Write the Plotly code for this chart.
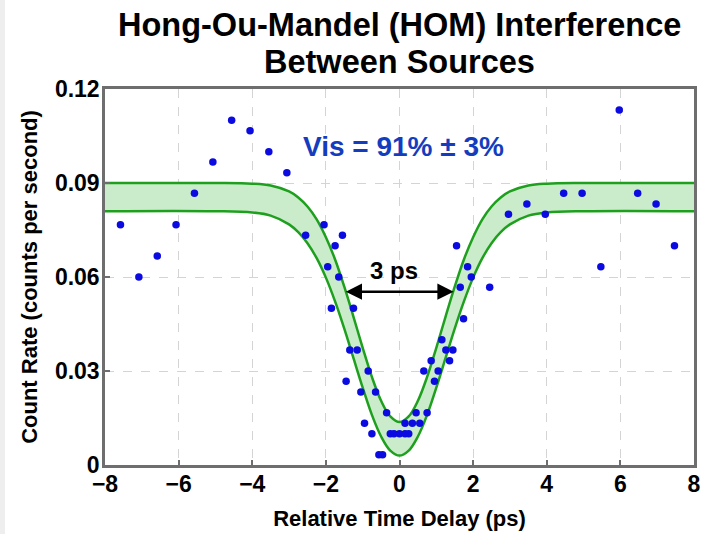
import plotly.graph_objects as go

# Measured data points (relative delay in ps, count rate in counts/s)
delay_ps = [-7.58, -7.08, -6.58, -6.07, -5.57, -5.07, -4.56, -4.06, -3.55, -3.06,
            -2.55, -2.05, -1.55, -1.75, -1.95, -1.65, -1.85, -1.25, -1.35, -1.15,
            -0.85, -1.45, -1.05, -0.65, -0.35, -0.95, -0.75,
            -0.25, -0.15, 0.0, 0.15, 0.25, -0.56, -0.46,
            0.15, 0.35, 0.55, 0.45, 0.75, 0.95, 0.66, 1.05, 0.86, 1.36,
            1.26, 1.45, 1.15, 1.74, 1.65, 2.45, 1.95, 1.85, 1.55,
            2.96, 3.46, 3.96, 4.46, 4.96, 5.47, 5.97, 6.47, 6.97, 7.47]
count_rate = [0.0767, 0.0600, 0.0667, 0.0767, 0.0867, 0.0967, 0.1100, 0.1067, 0.1000, 0.0933,
              0.0733, 0.0767, 0.0733, 0.0700, 0.0633, 0.0600, 0.0500, 0.0500, 0.0367, 0.0367,
              0.0300, 0.0267, 0.0233, 0.0233, 0.0167, 0.0133, 0.0100,
              0.0100, 0.0100, 0.0100, 0.0100, 0.0100, 0.0033, 0.0033,
              0.0133, 0.0133, 0.0133, 0.0167, 0.0167, 0.0267, 0.0300, 0.0300, 0.0333, 0.0333,
              0.0367, 0.0367, 0.0400, 0.0467, 0.0567, 0.0567, 0.0600, 0.0633, 0.0700,
              0.0800, 0.0833, 0.0800, 0.0867, 0.0867, 0.0633, 0.1133, 0.0867, 0.0833, 0.0700]

# Fit confidence band
band_x = [-8, -5, -4, -3.5, -3, -2.75, -2.5, -2.25, -2, -1.75, -1.5, -1.25, -1, -0.75, -0.5, -0.25, 0,
          0.25, 0.5, 0.75, 1, 1.25, 1.5, 1.75, 2, 2.25, 2.5, 2.75, 3, 3.5, 4, 5, 8]
band_upper = [0.0900, 0.0900, 0.0898, 0.0892, 0.0873, 0.0854, 0.0825, 0.0784, 0.0727, 0.0656, 0.0569,
              0.0473, 0.0374, 0.0281, 0.0205, 0.0155, 0.0137,
              0.0155, 0.0205, 0.0281, 0.0374, 0.0473, 0.0569, 0.0656, 0.0727, 0.0784, 0.0825, 0.0854,
              0.0873, 0.0892, 0.0898, 0.0900, 0.0900]
band_lower = [0.0810, 0.0810, 0.0806, 0.0796, 0.0768, 0.0743, 0.0708, 0.0660, 0.0598, 0.0522, 0.0435,
              0.0341, 0.0247, 0.0160, 0.0091, 0.0046, 0.0030,
              0.0046, 0.0091, 0.0160, 0.0247, 0.0341, 0.0435, 0.0522, 0.0598, 0.0660, 0.0708, 0.0743,
              0.0768, 0.0796, 0.0806, 0.0810, 0.0810]

x_ticks = [-8, -6, -4, -2, 0, 2, 4, 6, 8]
y_ticks = [0, 0.03, 0.06, 0.09, 0.12]
y_tick_text = ["0", "0.03", "0.06", "0.09", "0.12"]
title_lines = ["Hong-Ou-Mandel (HOM) Interference", "Between Sources"]

GREEN = "rgb(30,160,30)"
FILL = "rgb(202,236,202)"
FONT = "Liberation Sans"
MARGIN = dict(l=105, r=24, t=89, b=69)
PLOT_H = 534 - MARGIN["t"] - MARGIN["b"]
PLOT_W = 718 - MARGIN["l"] - MARGIN["r"]

fig = go.Figure()
fig.add_trace(go.Scatter(x=band_x, y=band_upper, mode="lines",
                         line=dict(color=GREEN, width=2.5, shape="spline"),
                         showlegend=False, hoverinfo="skip"))
fig.add_trace(go.Scatter(x=band_x, y=band_lower, mode="lines", fill="tonexty", fillcolor=FILL,
                         line=dict(color=GREEN, width=2.5, shape="spline"),
                         showlegend=False, hoverinfo="skip"))
fig.add_trace(go.Scatter(x=delay_ps, y=count_rate, mode="markers",
                         marker=dict(color="rgb(10,10,225)", size=7.5),
                         showlegend=False))

# width annotation
fig.add_annotation(x=1.47, y=0.0553, ax=-1.5, ay=0.0553, xref="x", yref="y", axref="x", ayref="y",
                   text="", showarrow=True, arrowhead=2, arrowside="end+start",
                   arrowsize=1.3, arrowwidth=2.5, arrowcolor="black")
fig.add_annotation(x=-0.14, y=0.0622, xref="x", yref="y", text="3 ps", showarrow=False,
                   font=dict(family=FONT, size=24, color="black", weight="bold"))
fig.add_annotation(x=0.1, y=0.1018, xref="x", yref="y", text="Vis = 91% ± 3%", showarrow=False,
                   font=dict(family=FONT, size=28, color="rgb(20,60,190)", weight="bold"))

# title, two lines
for line_text, y_px in zip(title_lines, [25, 62]):
    fig.add_annotation(x=0.5, xref="paper", y=1 + (MARGIN["t"] - y_px) / PLOT_H, yref="paper",
                       yanchor="middle", xanchor="center", text=line_text, showarrow=False,
                       font=dict(family=FONT, size=32.5, color="black", weight="bold"))

# light grey strip at the left edge
fig.add_shape(type="rect", xref="paper", yref="paper",
              x0=-MARGIN["l"] / PLOT_W, x1=-(MARGIN["l"] - 5) / PLOT_W,
              y0=-MARGIN["b"] / PLOT_H, y1=1 + MARGIN["t"] / PLOT_H,
              fillcolor="#eeeeee", line=dict(width=0), layer="below")

axis_common = dict(showline=True, linecolor="rgb(110,110,110)", linewidth=2.5, mirror=True,
                   ticks="inside", ticklen=5, tickcolor="rgb(110,110,110)", tickwidth=1.5,
                   showgrid=True, gridcolor="rgb(212,212,212)", griddash="dash", gridwidth=1,
                   zeroline=False, automargin=False,
                   tickfont=dict(family=FONT, size=23, color="black", weight="bold"))

fig.update_layout(
    width=718, height=534,
    margin=MARGIN,
    paper_bgcolor="white", plot_bgcolor="white",
    xaxis=dict(range=[-8, 8], tickvals=x_ticks, ticklabelstandoff=-3,
               title=dict(text="Relative Time Delay (ps)", standoff=15,
                          font=dict(family=FONT, size=22, color="black", weight="bold")),
               **axis_common),
    yaxis=dict(range=[0, 0.12], tickvals=y_ticks, ticktext=y_tick_text, ticklabelstandoff=-2,
               title=dict(text="Count Rate (counts per second)", standoff=12,
                          font=dict(family=FONT, size=22, color="black", weight="bold")),
               **axis_common),
)

fig.write_html("out.html", config={"displayModeBar": False},
               post_script="document.body.style.margin='0';")
